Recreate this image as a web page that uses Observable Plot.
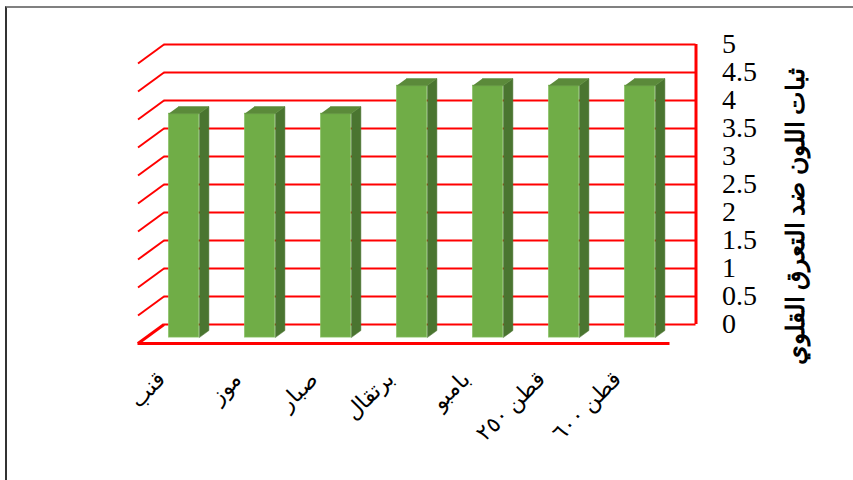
<!DOCTYPE html>
<html>
<head>
<meta charset="utf-8">
<script src="https://cdn.jsdelivr.net/npm/d3@7"></script>
<script src="https://cdn.jsdelivr.net/npm/@observablehq/plot@0.6"></script>
<style>
  html, body { margin: 0; padding: 0; background: #fff; }
  #wrap { position: relative; width: 853px; height: 480px; overflow: hidden; }
  #border { position: absolute; left: 5px; top: 6px; right: -5px; bottom: -5px;
            border-left: 2px solid #333; border-top: 2px solid #808080; pointer-events: none; }
  #chart svg { display: block; }
</style>
</head>
<body>
<div id="wrap"><div id="chart"></div><div id="border"></div></div>
<script>
// ---- data ----
const categories = ["قنب", "موز", "صبار", "برتقال", "بامبو", "قطن ٢٥٠", "قطن ٦٠٠"];
const values = [4, 4, 4, 4.5, 4.5, 4.5, 4.5];
const yTicks = [0, 0.5, 1, 1.5, 2, 2.5, 3, 3.5, 4, 4.5, 5];
const yTickLabels = ["0", "0.5", "1", "1.5", "2", "2.5", "3", "3.5", "4", "4.5", "5"];
const yTitle = "ثبات اللون ضد التعرق القلوي";

// ---- pseudo-3D geometry (oblique projection, in scale units) ----
const KX = 26 / 76;   // depth shift along x per unit depth
const KY = 19 / 56;   // depth shift along y per unit depth
const HW = 0.2;       // half bar width (category units)
const DF = 0.69;      // bar front depth
const DB = 0.32;      // bar back depth
const P = (i, v, d) => ({x: i - d * KX, y: v - d * KY});

const bars = values.map((v, i) => ({i, v, cat: categories[i]}));
const sidePts = bars.flatMap(b => [
  P(b.i + HW, 0, DF), P(b.i + HW, 0, DB), P(b.i + HW, b.v, DB), P(b.i + HW, b.v, DF)
].map(p => ({...p, k: b.i})));
const topPts = bars.flatMap(b => [
  P(b.i - HW, b.v, DF), P(b.i + HW, b.v, DF), P(b.i + HW, b.v, DB), P(b.i - HW, b.v, DB)
].map(p => ({...p, k: b.i})));
const ticks = yTicks.map((t, j) => ({t, label: yTickLabels[j]}));

const RED = "#FF0000";
const serif = "'Liberation Serif', 'Times New Roman', 'DejaVu Serif', serif";

const chart = Plot.plot({
  width: 853,
  height: 480,
  marginTop: 66,
  marginBottom: 114,
  marginLeft: 0,
  marginRight: 58,
  x: {type: "linear", domain: [0, 6], range: [201.5, 657.5], axis: null},
  y: {domain: [0, 5], range: [324, 44], axis: null},
  marks: [
    // back wall gridlines
    Plot.ruleY(ticks, {y: "t", x1: -0.5, x2: 6.5, stroke: RED, strokeWidth: 2}),
    // left wall diagonals
    Plot.link(ticks, {x1: -0.5, y1: "t", x2: -0.5 - KX, y2: d => d.t - KY, stroke: RED,
                      strokeWidth: d => d.t === 0 ? 3 : 2}),
    // right edge of back wall
    Plot.ruleX([6.5], {y1: 0, y2: 5, stroke: RED, strokeWidth: 3}),
    // floor front edge
    Plot.ruleY([-KY], {x1: -0.5 - KX, x2: 6.5 - KX, stroke: RED, strokeWidth: 3}),
    // bars: front, side, top
    Plot.rect(bars, {x1: b => b.i - HW - DF * KX, x2: b => b.i + HW - DF * KX,
                     y1: -DF * KY, y2: b => b.v - DF * KY, fill: "#70AD47",
                     stroke: "#8CC46A", strokeWidth: 0.6}),
    Plot.line(sidePts, {x: "x", y: "y", z: "k", fill: "#4A7530", stroke: "#4A7530", strokeWidth: 0.5}),
    Plot.line(topPts, {x: "x", y: "y", z: "k", fill: "#5B8A3A", stroke: "#5B8A3A", strokeWidth: 0.5}),
    // y tick labels (right)
    Plot.text(ticks, {x: 6.5, y: "t", text: "label", textAnchor: "start", dx: 26,
                      fontSize: 28, fontFamily: serif, fill: "#000"}),
    // category labels
    Plot.text(bars, {x: b => b.i - KX, y: -KY, text: "cat", rotate: -45, textAnchor: "end",
                     dx: -14, dy: 32, fontSize: 22, fontFamily: serif, fill: "#000"}),
    // y title
    Plot.text([yTitle], {frameAnchor: "right", rotate: -90, textAnchor: "middle",
                         fontSize: 25, fontWeight: "bold", fontFamily: serif, fill: "#000"})
  ]
});
document.getElementById("chart").appendChild(chart);
</script>
</body>
</html>
